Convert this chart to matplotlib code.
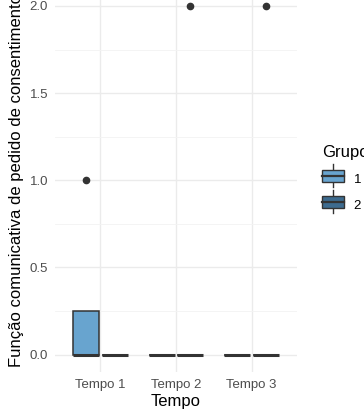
import numpy as np
import matplotlib
matplotlib.use("Agg")
import matplotlib.pyplot as plt
from matplotlib.legend_handler import HandlerBase
from matplotlib.patches import Rectangle
from matplotlib.lines import Line2D

plt.rcParams['font.family'] = ['Liberation Sans', 'DejaVu Sans']

# data
tempos = ['Tempo 1', 'Tempo 2', 'Tempo 3']
grupos = ['1', '2']
# per group, per tempo: q1, median, q3, whisker low/high, outliers
q1 = {'1': [0, 0, 0], '2': [0, 0, 0]}
med = {'1': [0, 0, 0], '2': [0, 0, 0]}
q3 = {'1': [0.25, 0, 0], '2': [0, 0, 0]}
wlo = {'1': [0, 0, 0], '2': [0, 0, 0]}
whi = {'1': [0.25, 0, 0], '2': [0, 0, 0]}
outliers = {'1': [[1.0], [], []], '2': [[], [2.0], [2.0]]}

colors = {'1': '#68a4cf', '2': '#3d6b8f'}
edge = '#333333'
offsets = {'1': -0.19, '2': 0.19}

W, H = 364, 419
fig = plt.figure(figsize=(W / 100, H / 100), dpi=100)
ax = fig.add_axes([55 / W, 47 / H, (297 - 55) / W, (430.5 - 47) / H])

x = np.arange(len(tempos))
for g in grupos:
    stats = []
    for i in range(len(tempos)):
        stats.append(dict(q1=q1[g][i], med=med[g][i], q3=q3[g][i],
                          whislo=wlo[g][i], whishi=whi[g][i],
                          fliers=outliers[g][i]))
    ax.bxp(stats, positions=x + offsets[g], widths=0.345, patch_artist=True,
           showcaps=False,
           boxprops=dict(facecolor=colors[g], edgecolor=edge, linewidth=1.1),
           medianprops=dict(color=edge, linewidth=2.2, solid_capstyle='butt'),
           whiskerprops=dict(color=edge, linewidth=1.1),
           flierprops=dict(marker='o', markersize=4.5, markerfacecolor=edge,
                           markeredgecolor=edge))

ax.set_xlim(-0.6, 2.6)
ax.set_ylim(-0.1, 2.1)
ax.set_xticks(x)
ax.set_xticklabels(tempos)
ax.set_yticks([0, 0.5, 1.0, 1.5, 2.0])
ax.set_yticklabels(['0.0', '0.5', '1.0', '1.5', '2.0'])
ax.set_yticks([0.25, 0.75, 1.25, 1.75], minor=True)
ax.grid(True, which='major', color='#ebebeb', linewidth=1.0)
ax.grid(True, which='minor', axis='y', color='#f3f3f3', linewidth=0.6)
ax.set_axisbelow(True)
for s in ax.spines.values():
    s.set_visible(False)
ax.tick_params(which='both', length=0, labelsize=9.5, labelcolor='#4d4d4d', pad=5)
ax.set_xlabel('Tempo', fontsize=12, labelpad=2)
ax.set_ylabel('Função comunicativa de pedido de consentimento', fontsize=12, labelpad=4)


class BoxKey(HandlerBase):
    def create_artists(self, legend, orig, xd, yd, width, height, fontsize, trans):
        cx = xd + width / 2
        v = Line2D([cx, cx], [yd - 4, yd + height + 4], color=edge, lw=1.0, transform=trans)
        r = Rectangle((xd, yd), width, height, facecolor=orig.get_facecolor(),
                      edgecolor=edge, lw=1.0, transform=trans)
        m = Line2D([xd, xd + width], [yd + height / 2] * 2, color=edge, lw=1.6, transform=trans)
        return [v, r, m]


handles = [Rectangle((0, 0), 1, 1, facecolor=colors[g]) for g in grupos]
leg = fig.legend(handles, grupos, title='Grupo', loc='upper left',
                 bbox_to_anchor=(322 / W, 1 - 145 / H), frameon=False,
                 borderpad=0, borderaxespad=0,
                 handler_map={Rectangle: BoxKey()}, handlelength=1.7,
                 handleheight=1.0, labelspacing=0.95, handletextpad=0.7,
                 fontsize=9.5, title_fontsize=12, alignment='left')

fig.savefig('out.png', dpi=100, facecolor='white')
